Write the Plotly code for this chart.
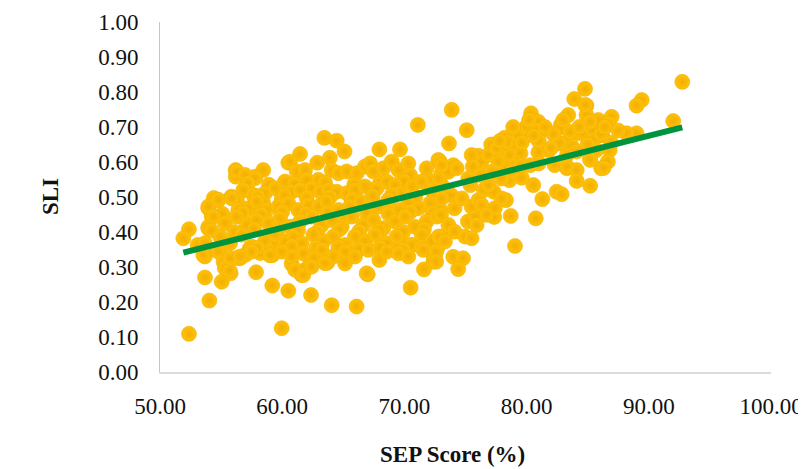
import numpy as np
import plotly.graph_objects as go

# SEP score (%) and SLI values
sep_score = [
    # sparse / edge points (left half)
    52.37, 59.96, 54.04, 53.68, 55.05, 55.78, 57.86, 59.19, 60.50, 62.36,
    64.05, 66.09, 67.00, 67.95, 70.51, 71.60, 72.37, 65.14, 63.69, 61.60,
    60.77, 61.80, 71.10, 63.45, 64.46, 65.10, 61.46, 60.50, 62.87, 63.90,
    67.95, 69.64, 56.19, 56.20, 58.45, 57.77, 56.87, 54.77, 53.95, 55.84,
    57.77, 58.45, 54.23, 53.95, 52.37, 51.91, 53.08, 53.68, 55.20, 56.55,
    57.36, 59.00, 59.20, 61.50, 62.30, 66.78, 69.50, 70.50, 72.40, 72.70,
    72.80, 60.64,
    55.30, 55.70, 56.30, 57.40, 59.20, 57.00, 58.20, 54.60, 55.00, 58.80,
    # dense cluster, left half
    56.27, 56.96, 57.78, 60.23, 61.19, 61.87, 62.00, 62.96, 64.05, 64.60,
    65.28, 66.10, 66.78, 67.19, 67.46, 68.28, 68.96, 69.51, 70.32, 70.46,
    71.82, 72.78, 73.05,
    57.20, 58.90, 61.00, 63.50, 65.90, 68.00, 70.00, 71.90,
    56.82, 57.64, 58.59, 59.41, 59.96, 60.78, 61.46, 62.41, 63.09, 63.78,
    64.46, 65.28, 65.96, 66.78, 67.73, 68.55, 69.23, 69.64, 70.60, 71.42,
    72.23, 73.05,
    54.40, 56.30, 58.00, 60.20, 62.00, 63.90, 65.70, 67.40, 69.00, 70.90,
    72.60,
    53.96, 54.77, 55.87, 56.41, 57.23, 57.91, 58.73, 59.69, 60.50, 61.32,
    62.14, 62.96, 63.64, 64.60, 65.55, 66.37, 67.19, 67.87, 68.69, 69.51,
    70.32, 71.14, 72.10, 72.92,
    55.10, 56.80, 58.30, 60.00, 61.90, 63.70, 65.20, 66.90, 68.70, 70.50,
    72.30,
    53.96, 54.37, 55.32, 56.27, 57.09, 57.91, 58.87, 59.82, 60.64, 61.46,
    62.41, 63.23, 64.05, 64.87, 65.69, 66.64, 67.46, 68.28, 69.23, 70.05,
    70.87, 71.82, 72.64,
    54.20, 56.10, 57.70, 59.60, 61.30, 62.90, 64.70, 66.30, 68.00, 69.90,
    71.60,
    53.68, 54.91, 55.73, 56.68, 57.50, 58.59, 59.41, 60.23, 60.91, 61.59,
    62.55, 63.37, 64.19, 65.14, 65.96, 66.78, 67.60, 68.55, 69.37, 70.60,
    71.42, 72.23, 73.05,
    58.00, 60.80, 62.80, 64.60, 66.30, 68.00, 69.90, 71.40,
    53.55, 54.77, 55.73, 56.55, 57.50, 59.00, 59.96, 60.78, 61.73, 62.55,
    63.23, 64.19, 65.14, 65.96, 67.05, 68.55, 69.51, 70.32, 71.55, 72.51,
    61.05, 61.73, 62.41, 63.50, 66.91,
    # right half
    92.74, 92.00, 89.42, 89.00, 89.00, 88.19, 84.78, 83.90, 84.90, 83.41,
    84.90, 85.87, 86.96, 86.70, 82.80, 83.60, 84.50, 85.40, 86.20, 82.87,
    83.70, 85.20, 86.80, 85.20, 86.65, 86.10, 83.30, 84.10, 84.10, 85.20,
    82.30, 81.80, 80.96, 82.46, 82.87, 81.29, 80.55, 80.75, 79.05, 78.70,
    78.31, 77.35, 80.36, 80.96, 81.20, 80.40, 80.00, 79.05, 78.20, 77.40,
    79.05, 78.20, 79.50, 81.00, 80.30, 79.60, 78.60, 77.10, 76.05, 75.50,
    76.30, 75.60, 75.10, 73.87, 73.65, 72.90, 74.00, 73.60, 72.80, 73.80,
    74.10, 73.00, 73.60, 74.10, 74.96, 75.20, 75.80, 75.50, 76.05, 76.50,
    75.40, 77.30, 77.40, 74.00, 74.80, 74.40, 72.60, 72.60, 72.80, 78.30,
    79.10, 77.96, 78.60,
    73.05, 74.28, 75.23, 76.19, 77.14, 77.69, 76.87, 77.55, 78.37, 79.32,
    80.00, 80.82, 78.78, 79.46, 76.87, 77.96, 76.32, 76.73, 77.96, 75.91,
    73.05, 74.69, 73.32, 75.50,
    86.00, 85.20, 84.80, 85.40, 85.70, 83.80, 82.90, 83.30, 84.10, 83.30,
    82.70, 86.10, 86.30, 85.20, 83.55,
    77.80, 78.90, 80.20, 81.50, 82.20, 79.60, 81.00, 83.00, 84.30, 86.40,
    87.50, 82.00, 80.60, 85.00, 86.90,
]

sli = [
    0.109, 0.125, 0.204, 0.270, 0.258, 0.282, 0.285, 0.247, 0.232, 0.220,
    0.191, 0.187, 0.279, 0.320, 0.241, 0.293, 0.315, 0.310, 0.312, 0.277,
    0.309, 0.291, 0.706, 0.669, 0.661, 0.630, 0.623, 0.598, 0.598, 0.612,
    0.636, 0.636, 0.577, 0.558, 0.577, 0.558, 0.520, 0.491, 0.468, 0.501,
    0.499, 0.482, 0.444, 0.410, 0.408, 0.382, 0.363, 0.330, 0.315, 0.325,
    0.353, 0.334, 0.368, 0.282, 0.315, 0.358, 0.372, 0.363, 0.330, 0.354,
    0.382, 0.601,
    0.297, 0.290, 0.326, 0.354, 0.334, 0.335, 0.340, 0.350, 0.360, 0.350,
    0.573, 0.563, 0.554, 0.544, 0.573, 0.577, 0.549, 0.549, 0.577, 0.568,
    0.573, 0.568, 0.587, 0.596, 0.573, 0.582, 0.601, 0.577, 0.596, 0.563,
    0.582, 0.606, 0.568,
    0.540, 0.535, 0.538, 0.542, 0.536, 0.539, 0.545, 0.548,
    0.520, 0.506, 0.511, 0.525, 0.496, 0.515, 0.520, 0.525, 0.515, 0.520,
    0.515, 0.511, 0.520, 0.530, 0.525, 0.544, 0.534, 0.511, 0.530, 0.544,
    0.520, 0.534,
    0.497, 0.490, 0.502, 0.505, 0.498, 0.500, 0.494, 0.503, 0.508, 0.500,
    0.505,
    0.473, 0.492, 0.496, 0.463, 0.468, 0.487, 0.463, 0.473, 0.482, 0.463,
    0.477, 0.473, 0.487, 0.463, 0.473, 0.487, 0.463, 0.473, 0.492, 0.463,
    0.482, 0.468, 0.482, 0.463,
    0.452, 0.455, 0.450, 0.458, 0.452, 0.456, 0.450, 0.455, 0.452, 0.458,
    0.455,
    0.415, 0.444, 0.425, 0.444, 0.420, 0.434, 0.425, 0.439, 0.415, 0.430,
    0.444, 0.420, 0.434, 0.415, 0.444, 0.420, 0.434, 0.411, 0.430, 0.444,
    0.415, 0.430, 0.444,
    0.405, 0.400, 0.408, 0.402, 0.405, 0.400, 0.408, 0.402, 0.405, 0.400,
    0.408,
    0.368, 0.387, 0.368, 0.392, 0.358, 0.373, 0.392, 0.373, 0.387, 0.368,
    0.392, 0.373, 0.387, 0.363, 0.387, 0.373, 0.392, 0.368, 0.387, 0.363,
    0.392, 0.373, 0.387,
    0.355, 0.360, 0.356, 0.358, 0.352, 0.356, 0.350, 0.357,
    0.334, 0.344, 0.325, 0.330, 0.344, 0.334, 0.344, 0.330, 0.339, 0.325,
    0.349, 0.330, 0.344, 0.330, 0.349, 0.344, 0.339, 0.330, 0.349, 0.330,
    0.292, 0.277, 0.301, 0.311, 0.282,
    0.829, 0.717, 0.777, 0.761, 0.682, 0.682, 0.809, 0.780, 0.761, 0.734,
    0.734, 0.720, 0.729, 0.710, 0.706, 0.682, 0.682, 0.687, 0.677, 0.653,
    0.644, 0.649, 0.634, 0.610, 0.601, 0.582, 0.582, 0.577, 0.546, 0.532,
    0.591, 0.634, 0.628, 0.515, 0.508, 0.494, 0.534, 0.439, 0.360, 0.446,
    0.491, 0.443, 0.739, 0.715, 0.687, 0.701, 0.677, 0.689, 0.669, 0.649,
    0.652, 0.632, 0.625, 0.596, 0.591, 0.555, 0.548, 0.650, 0.618, 0.620,
    0.601, 0.587, 0.691, 0.749, 0.653, 0.601, 0.591, 0.572, 0.553, 0.506,
    0.468, 0.449, 0.420, 0.401, 0.387, 0.430, 0.443, 0.472, 0.491, 0.520,
    0.534, 0.515, 0.468, 0.329, 0.325, 0.294, 0.344, 0.315, 0.387, 0.580,
    0.600, 0.615, 0.620,
    0.591, 0.582, 0.553, 0.563, 0.572, 0.601, 0.620, 0.639, 0.658, 0.672,
    0.701, 0.691, 0.572, 0.591, 0.534, 0.553, 0.477, 0.449, 0.496, 0.420,
    0.496, 0.496, 0.373, 0.382,
    0.677, 0.715, 0.763, 0.663, 0.634, 0.677, 0.700, 0.620, 0.630, 0.587,
    0.654, 0.680, 0.583, 0.606, 0.686,
    0.660, 0.700, 0.720, 0.700, 0.680, 0.655, 0.660, 0.720, 0.700, 0.700,
    0.690, 0.640, 0.675, 0.650, 0.655,
]

x_ticks = [50, 60, 70, 80, 90, 100]
y_ticks = [0.0, 0.1, 0.2, 0.3, 0.4, 0.5, 0.6, 0.7, 0.8, 0.9, 1.0]

x = np.array(sep_score)
y = np.array(sli)
slope, intercept = np.polyfit(x, y, 1)
trend_x = np.array([x.min(), x.max()])
trend_y = slope * trend_x + intercept

FONT = "Liberation Serif, Times New Roman, serif"

fig = go.Figure()
fig.add_trace(go.Scatter(
    x=sep_score, y=sli, mode="markers",
    marker=dict(size=15, color="#FFC20A",
                gradient=dict(type="radial", color="#F2AE00"),
                line=dict(color="#EFB000", width=0.6)),
    showlegend=False, hoverinfo="x+y",
))
fig.add_trace(go.Scatter(
    x=trend_x, y=trend_y, mode="lines",
    line=dict(color="#00943F", width=6),
    showlegend=False, hoverinfo="skip",
))

# page body has an 8px default margin, so the figure is sized to fit the window
fig.update_layout(
    width=798, height=461,
    margin=dict(l=152, r=35, t=14, b=97),
    paper_bgcolor="white", plot_bgcolor="white",
    font=dict(family=FONT, size=23, color="#111111"),
    xaxis=dict(range=[50, 100], tickvals=x_ticks,
               ticktext=[f"{v:.2f}" for v in x_ticks],
               showgrid=False, zeroline=False, automargin=False,
               showline=True, linecolor="#D9DCE1", linewidth=2,
               ticks="outside", ticklen=12, tickcolor="rgba(0,0,0,0)"),
    yaxis=dict(range=[0, 1], tickvals=y_ticks,
               ticktext=[f"{v:.2f}" for v in y_ticks],
               showgrid=False, zeroline=False, automargin=False,
               showline=True, linecolor="#BCC6D6", linewidth=1,
               ticks="outside", ticklen=16, tickcolor="rgba(0,0,0,0)"),
    annotations=[
        dict(text="<b>SEP Score (%)</b>", xref="paper", yref="paper",
             x=0.478, y=-0.273, xanchor="center", yanchor="bottom",
             borderpad=0,
             showarrow=False, font=dict(family=FONT, size=23, color="#111111")),
        dict(text="<b>SLI</b>", xref="paper", yref="paper",
             x=-0.18, y=0.5, xanchor="center", yanchor="middle",
             textangle=-90, showarrow=False,
             font=dict(family=FONT, size=23, color="#111111")),
    ],
)

fig.write_html("out.html")
